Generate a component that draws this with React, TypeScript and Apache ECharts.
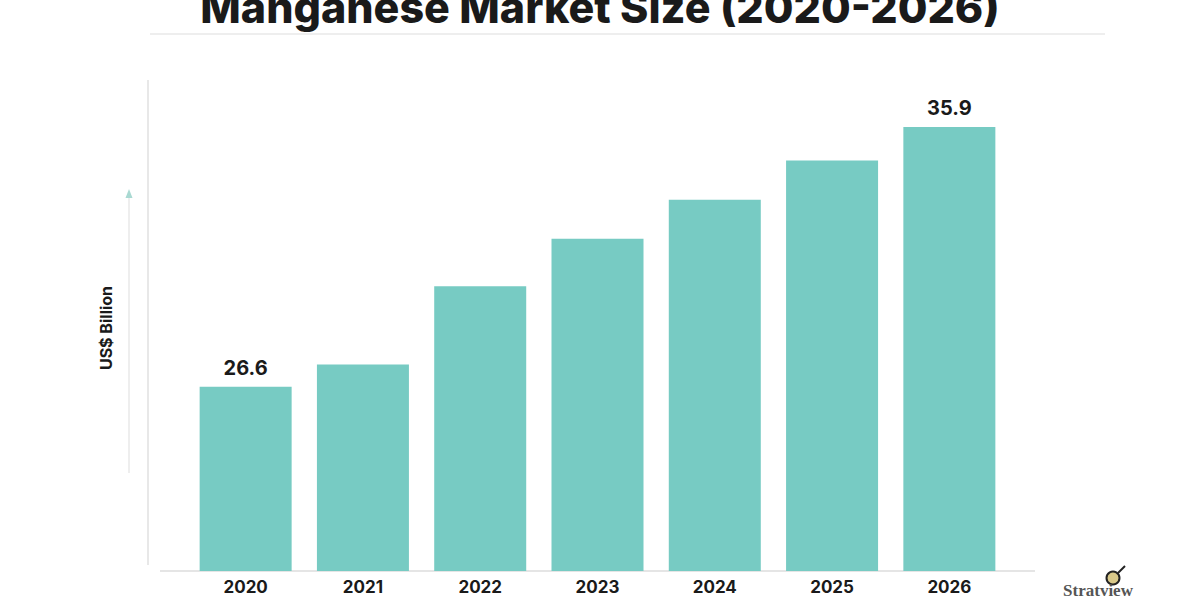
import React, { useEffect, useRef } from "react";
import * as echarts from "echarts";

const categories = ["2020", "2021", "2022", "2023", "2024", "2025", "2026"];
const values = [26.6, 27.4, 30.2, 31.9, 33.3, 34.7, 35.9];
const labeledIndexes = [0, 6];
const titleText = "Manganese Market Size (2020-2026)";
const yAxisTitle = "US$ Billion";
const brand = "Stratview";

export default function App() {
  const ref = useRef<HTMLDivElement>(null);
  useEffect(() => {
    if (!ref.current) return;
    const chart = echarts.init(ref.current, undefined, { renderer: "svg" });
    const font = "Inter, 'Open Sans', sans-serif";
    chart.setOption({
      animation: false,
      backgroundColor: "#ffffff",
      grid: { left: 187, right: 192, top: 12.6, bottom: 29, containLabel: false },
      xAxis: {
        type: "category",
        data: categories,
        axisLine: { show: false },
        axisTick: { show: false },
        axisLabel: {
          color: "#1a1a1a",
          fontFamily: font,
          fontWeight: "bold",
          fontSize: 17,
          margin: 7,
        },
      },
      yAxis: {
        type: "value",
        min: 20,
        max: 40,
        show: false,
        splitLine: { show: false },
      },
      series: [
        {
          type: "bar",
          data: values,
          barWidth: 92,
          itemStyle: { color: "#77CBC3" },
          label: {
            show: true,
            position: "top",
            distance: 9,
            color: "#1a1a1a",
            fontFamily: font,
            fontWeight: "bold",
            fontSize: 20,
            formatter: (p: any) =>
              labeledIndexes.includes(p.dataIndex) ? String(p.value) : "",
          },
        },
      ],
      graphic: [
        {
          type: "text",
          x: 600,
          y: 28,
          style: {
            text: titleText,
            fontFamily: font,
            fontWeight: 800,
            fontSize: 43,
            fill: "#1a1a1a",
            align: "center",
            verticalAlign: "bottom",
          },
        },
        {
          type: "line",
          shape: { x1: 150, y1: 34, x2: 1105, y2: 34 },
          style: { stroke: "#eeeeee", lineWidth: 2 },
        },
        {
          type: "line",
          shape: { x1: 148, y1: 80, x2: 148, y2: 565 },
          style: { stroke: "#e8e8e8", lineWidth: 2 },
        },
        {
          type: "line",
          shape: { x1: 160, y1: 571, x2: 1035, y2: 571 },
          style: { stroke: "#dddddd", lineWidth: 1.5 },
        },
        {
          type: "line",
          shape: { x1: 129, y1: 196, x2: 129, y2: 473 },
          style: { stroke: "#eeeeee", lineWidth: 2 },
        },
        {
          type: "polygon",
          shape: { points: [[129, 189], [125.5, 198], [132.5, 198]] },
          style: { fill: "#a9d9d2" },
        },
        {
          type: "text",
          x: 106,
          y: 328,
          rotation: Math.PI / 2,
          style: {
            text: yAxisTitle,
            fontFamily: font,
            fontWeight: "bold",
            fontSize: 16,
            fill: "#1a1a1a",
            align: "center",
            verticalAlign: "middle",
          },
        },
        {
          type: "circle",
          shape: { cx: 1113, cy: 578, r: 6.5 },
          style: { fill: "#d9c98a", stroke: "#222222", lineWidth: 2 },
        },
        {
          type: "line",
          shape: { x1: 1118, y1: 573, x2: 1125, y2: 566 },
          style: { stroke: "#222222", lineWidth: 2 },
        },
        {
          type: "text",
          x: 1098,
          y: 590,
          style: {
            text: brand,
            fontFamily: "'Liberation Serif', serif",
            fontWeight: "bold",
            fontSize: 17,
            fill: "#555555",
            align: "center",
            verticalAlign: "middle",
          },
        },
      ],
    });
    return () => chart.dispose();
  }, []);
  return (
    <div
      ref={ref}
      style={{ position: "fixed", left: 0, top: 0, width: 1200, height: 600 }}
    />
  );
}
